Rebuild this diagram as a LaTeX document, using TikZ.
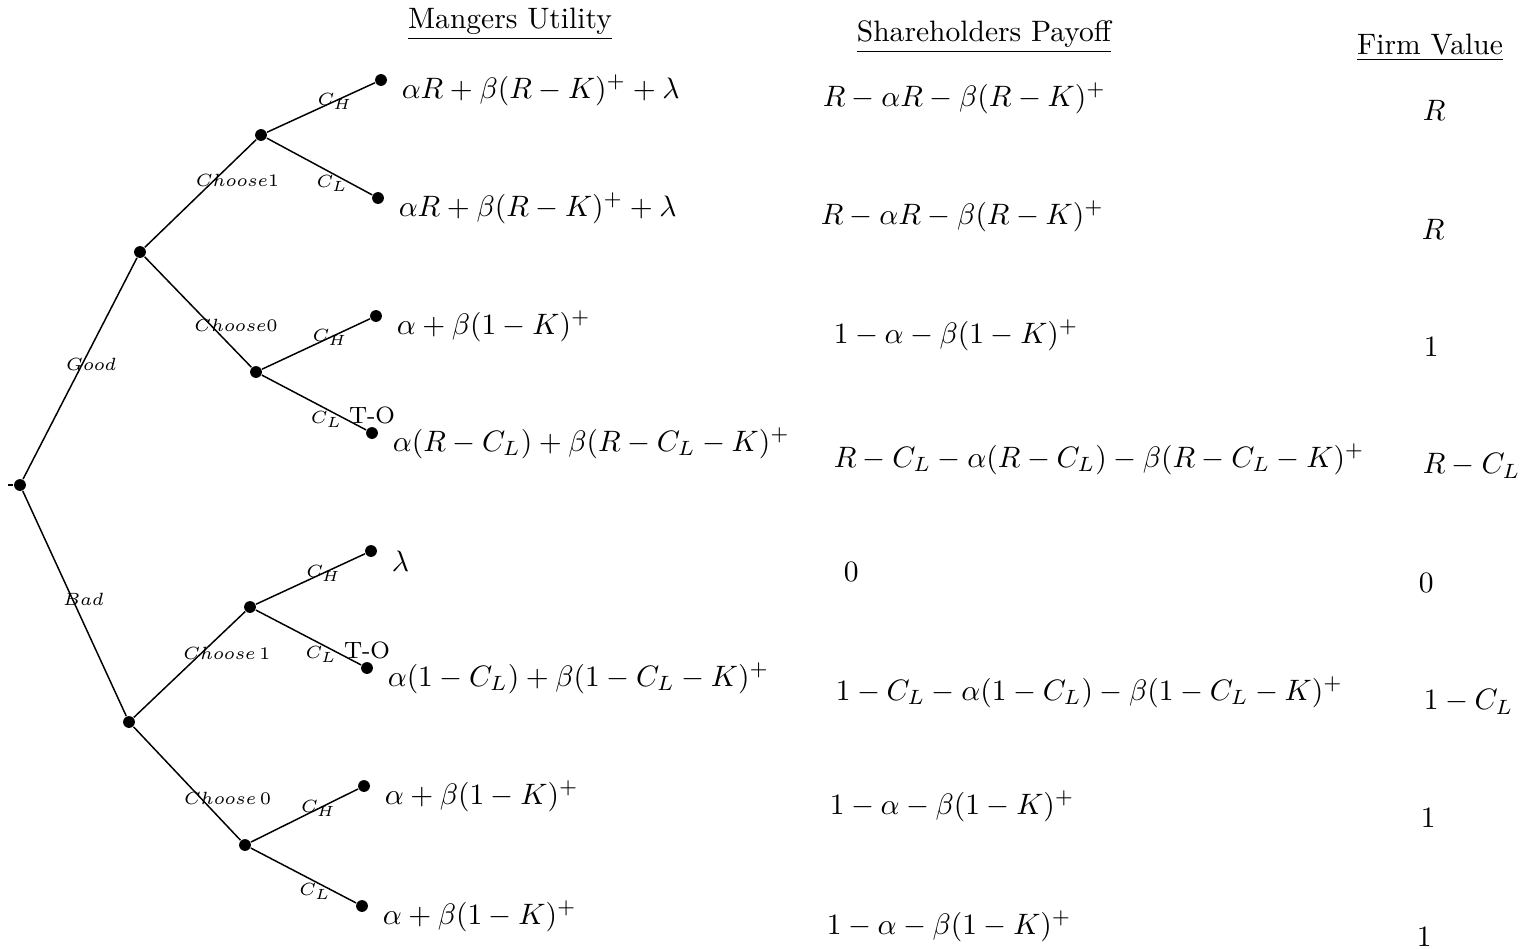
\documentclass[tikz,border=0pt]{standalone}
\usepackage{amsmath,amssymb}
\usetikzlibrary{positioning}

\begin{document}
\begin{tikzpicture}[x=0.0119cm,y=-0.0119cm,line width=0.5pt,
  dot/.style={circle,fill=black,inner sep=0pt,minimum size=4pt},
  lbl/.style={font=\fontsize{5.7}{7}\selectfont,inner sep=0.5pt},
  to/.style={font=\footnotesize,inner sep=0.5pt},
  mu/.style={right=1.2pt of #1,yshift=-3.4pt},
  pay/.style={anchor=west,inner sep=0pt}]
\useasboundingbox (0,0) rectangle (1533,948);
% Column headers
\def\xmu{510} \def\xsh{984} \def\xfv{1430}
\node (hmu) at (\xmu,24) {\underline{Mangers Utility}};
\node (hsh) at (\xsh,37) {\underline{Shareholders Payoff}};
\node (hfv) at (\xfv,48) {\underline{Firm Value}};
% Decision nodes
\node[dot] (root) at (20,485) {};
\coordinate (stub) at (8,485);
\node[dot] (good) at (140,252) {};
\node[dot] (bad) at (129,722) {};
\node[dot] (g1) at (261,135) {};
\node[dot] (g0) at (256,372) {};
\node[dot] (b1) at (250,607) {};
\node[dot] (b0) at (245,845) {};
% Leaves
\node[dot] (l1) at (381,80) {};
\node[dot] (l2) at (378,198) {};
\node[dot] (l3) at (376,316) {};
\node[dot,label={[to]above:T-O}] (l4) at (372,433) {};
\node[dot] (l5) at (371,551) {};
\node[dot,label={[to]above:T-O}] (l6) at (367,668) {};
\node[dot] (l7) at (364,786) {};
\node[dot] (l8) at (362,906) {};
% Branches
\draw (stub) -- (root);
\draw (root) -- node[lbl,pos=0.52,xshift=3pt]{$Good$} (good);
\draw (root) -- node[lbl,pos=0.48,xshift=3.7pt]{$Bad$} (bad);
\draw (good) -- node[lbl,pos=0.62,xshift=8pt]{$Choose1$} (g1);
\draw (good) -- node[lbl,pos=0.62,xshift=8.5pt]{$Choose0$} (g0);
\draw (bad) -- node[lbl,pos=0.61,xshift=8.5pt]{$Choose\,1$} (b1);
\draw (bad) -- node[lbl,pos=0.63,xshift=9pt]{$Choose\,0$} (b0);
\draw (g1) -- node[lbl,pos=0.63]{$C_H$} (l1);
\draw (g1) -- node[lbl,pos=0.62,yshift=-3.4pt]{$C_L$} (l2);
\draw (g0) -- node[lbl,pos=0.63]{$C_H$} (l3);
\draw (g0) -- node[lbl,pos=0.62,yshift=-3.4pt]{$C_L$} (l4);
\draw (b1) -- node[lbl,pos=0.62]{$C_H$} (l5);
\draw (b1) -- node[lbl,pos=0.62,yshift=-3.4pt]{$C_L$} (l6);
\draw (b0) -- node[lbl,pos=0.63]{$C_H$} (l7);
\draw (b0) -- node[lbl,pos=0.61,yshift=-3.4pt]{$C_L$} (l8);
% Managers utility
\node[mu=l1] (u1) {$\alpha R+\beta(R-K)^{+}+\lambda$};
\node[mu=l2] (u2) {$\alpha R+\beta(R-K)^{+}+\lambda$};
\node[mu=l3] (u3) {$\alpha+\beta(1-K)^{+}$};
\node[mu=l4] (u4) {$\alpha(R-C_L)+\beta(R-C_L-K)^{+}$};
\node[mu=l5] (u5) {$\lambda$};
\node[mu=l6] (u6) {$\alpha(1-C_L)+\beta(1-C_L-K)^{+}$};
\node[mu=l7] (u7) {$\alpha+\beta(1-K)^{+}$};
\node[mu=l8] (u8) {$\alpha+\beta(1-K)^{+}$};
% Shareholders payoff
\node[pay] (s1) at (822,98) {$R-\alpha R-\beta(R-K)^{+}$};
\node[pay] (s2) at (820,216) {$R-\alpha R-\beta(R-K)^{+}$};
\node[pay] (s3) at (833,335) {$1-\alpha-\beta(1-K)^{+}$};
\node[pay] (s4) at (833,459) {$R-C_L-\alpha(R-C_L)-\beta(R-C_L-K)^{+}$};
\node[pay] (s5) at (843,572) {$0$};
\node[pay] (s6) at (835,692) {$1-C_L-\alpha(1-C_L)-\beta(1-C_L-K)^{+}$};
\node[pay] (s7) at (829,806) {$1-\alpha-\beta(1-K)^{+}$};
\node[pay] (s8) at (826,926) {$1-\alpha-\beta(1-K)^{+}$};
% Firm value
\node[pay] (f1) at (1422,110) {$R$};
\node[pay] (f2) at (1421,229) {$R$};
\node[pay] (f3) at (1423,347) {$1$};
\node[pay] (f4) at (1422,466) {$R-C_L$};
\node[pay] (f5) at (1418,583) {$0$};
\node[pay] (f6) at (1423,702) {$1-C_L$};
\node[pay] (f7) at (1420,818) {$1$};
\node[pay] (f8) at (1416,937) {$1$};
\end{tikzpicture}
\end{document}
